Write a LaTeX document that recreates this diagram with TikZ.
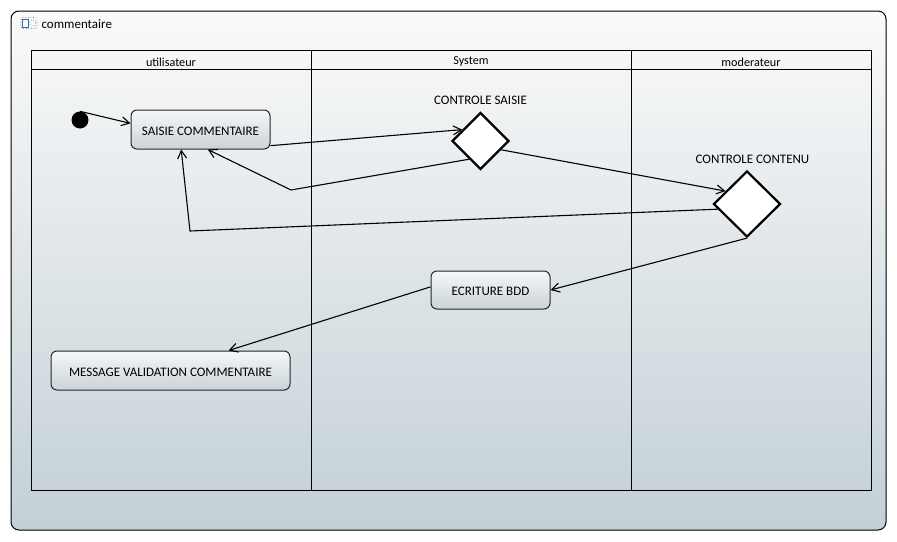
\documentclass[tikz,border=0pt]{standalone}
\usepackage{fontspec}
\setmainfont{Carlito}
\usetikzlibrary{shapes.geometric,arrows.meta,calc}

\definecolor{bgtop}{HTML}{FAFAFA}
\definecolor{bgbot}{HTML}{C3D0D6}
\definecolor{acttop}{HTML}{F5F7F8}
\definecolor{actbot}{HTML}{CAD3D8}
\definecolor{iconblue}{HTML}{3A6EA5}

% lower a label inside its node without changing the node's size
\newcommand\lowtext[1]{\raisebox{-1.5pt}[\height][\depth]{#1}}

\tikzset{
  action/.style={draw=black!85, line width=1pt, rounded corners=6pt,
    top color=acttop, bottom color=actbot, inner sep=0pt,
    font=\fontsize{13}{15}\selectfont},
  decision/.style={diamond, draw=black, line width=2.2pt, fill=white,
    inner sep=0pt, aspect=1},
  flow/.style={draw=black, line width=1.1pt,
    -{Straight Barb[length=8pt,width=9pt,line width=1.1pt]}},
  lane/.style={draw=black, line width=1pt},
  lanetitle/.style={font=\fontsize{12.2}{14}\selectfont},
  dlabel/.style={font=\fontsize{13}{15}\selectfont}
}

\begin{document}
\begin{tikzpicture}[x=1pt,y=-1pt]
  \useasboundingbox (0,0) rectangle (897,541);

  % activity frame
  \path[draw=black, line width=1pt, rounded corners=8pt,
        top color=bgtop, bottom color=bgbot] (11,11) rectangle (886,530);

  % frame icon and title
  \draw[iconblue, line width=0.6pt] (22,19) rectangle (28.5,27);
  \draw[iconblue, line width=0.6pt, dotted, rounded corners=2pt] (21,17.5) rectangle (37,28.5);
  \draw[iconblue, line width=0.6pt, dotted] (32.5,23) circle (3.2);
  \node[anchor=west, font=\fontsize{13}{15}\selectfont] (title) at (38,24) {commentaire};

  % swimlanes
  \draw[lane] (31,50) rectangle (871,490);
  \draw[lane] (31,69) -- (871,69);
  \draw[lane] (311,50) -- (311,490);
  \draw[lane] (631,50) -- (631,490);
  \node[lanetitle] (l1) at (171,62) {utilisateur};
  \node[lanetitle] (l2) at (471,62) {System};
  \node[lanetitle] (l3) at (751,62) {moderateur};

  % initial node
  \node[circle, fill=black, minimum size=17pt, inner sep=0pt] (init) at (80,120) {};

  % actions
  \node[action, minimum width=139pt, minimum height=39pt] (saisie) at (200.5,129.5) {\lowtext{SAISIE COMMENTAIRE}};
  \node[action, minimum width=119pt, minimum height=38pt] (bdd) at (490.5,290) {\lowtext{ECRITURE BDD}};
  \node[action, minimum width=239pt, minimum height=39pt] (msg) at (170.5,370.5) {\lowtext{MESSAGE VALIDATION COMMENTAIRE}};

  % decisions
  \node[decision, minimum width=57pt, minimum height=57pt] (ctrlsaisie) at (480.5,141) {};
  \node[dlabel] (ctrlsaisielbl) at (480.5,100.5) {CONTROLE SAISIE};
  \node[decision, minimum width=67pt, minimum height=66pt] (ctrlcontenu) at (747,204) {};
  \node[dlabel] (ctrlcontenulbl) at (752.5,159.5) {CONTROLE CONTENU};

  % bend points
  \coordinate (b1) at (291,190);
  \coordinate (b2) at (190,231);

  % flows
  \draw[flow] (init.north) -- (saisie.175);
  \draw[flow] (saisie.-13) -- (ctrlsaisie.148);
  \draw[flow] (ctrlsaisie.238) -- (b1) -- (saisie.-70);
  \draw[flow] (ctrlsaisie.-23) -- (ctrlcontenu.149);
  \draw[flow] (ctrlcontenu.190) -- (b2) -- (saisie.226);
  \draw[flow] (ctrlcontenu.south) -- (bdd.east);
  \draw[flow] (bdd.177) -- (msg.19);
\end{tikzpicture}
\end{document}
